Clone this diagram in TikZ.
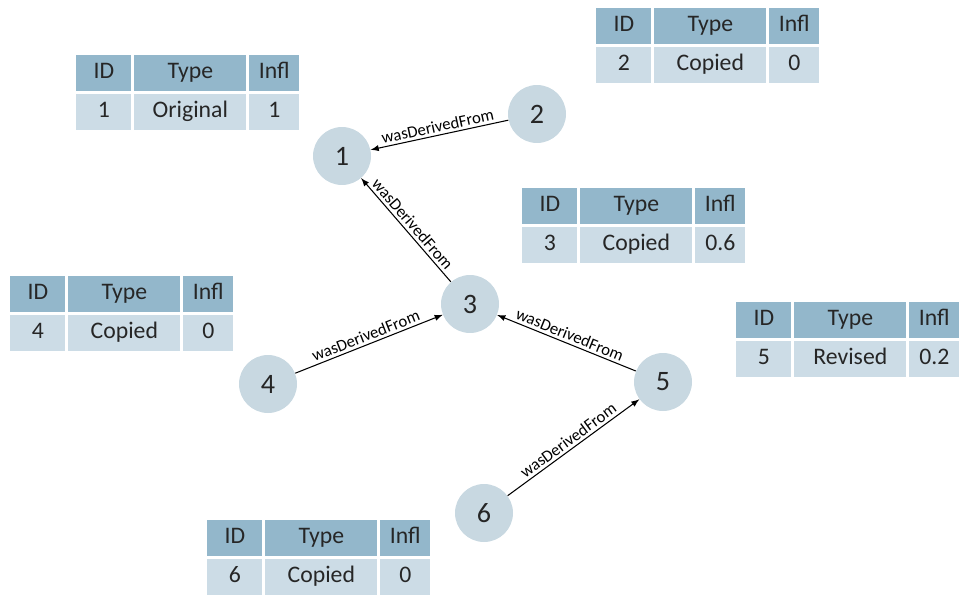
\documentclass[tikz,border=0pt]{standalone}
\usepackage{fontspec}
\setmainfont{Carlito}
\usetikzlibrary{matrix, positioning, arrows}
\definecolor{hdblue}{HTML}{93B7CB}
\definecolor{rowblue}{HTML}{CCDCE6}
\definecolor{circgray}{HTML}{C8D8E1}
\definecolor{txtgray}{HTML}{262626}

\begin{document}
\begin{tikzpicture}[
        x=0.02cm, y=-0.02cm,
        every node/.style={text=txtgray},
        version/.style={circle, fill=circgray, minimum size=1.16cm, inner sep=0pt,
            font=\fontsize{16}{19}\selectfont},
        derived/.style={-latex, line width=0.6pt, black},
        rel/.style={midway, sloped, above, inner sep=1.5pt, text=black,
            font=\fontsize{9.5}{11}\selectfont},
        infotable/.style={matrix of nodes, anchor=north west, inner sep=0pt,
            column sep=0.06cm, row sep=0.06cm,
            nodes={minimum height=0.72cm, inner sep=1pt, anchor=center,
                text height=1.6ex, text depth=0.45ex,
                font=\fontsize{13.5}{16}\selectfont},
            column 1/.style={nodes={minimum width=1.1cm}},
            column 2/.style={nodes={minimum width=2.24cm}},
            column 3/.style={nodes={minimum width=1.0cm}},
            row 1/.style={nodes={fill=hdblue}},
            row 2/.style={nodes={fill=rowblue}}}]

        \useasboundingbox (0,0) rectangle (962,598);

        % versions
        \node[version] (n1) at (342,156) {1};
        \node[version] (n2) at (537,114) {2};
        \node[version] (n3) at (470,304) {3};
        \node[version] (n4) at (268,384) {4};
        \node[version] (n5) at (663,382) {5};
        \node[version] (n6) at (484,513) {6};

        % tables
        \matrix (t1) [infotable] at (76,55) {ID & Type & Infl \\ 1 & Original & 1 \\};
        \matrix (t2) [infotable] at (596,8) {ID & Type & Infl \\ 2 & Copied & 0 \\};
        \matrix (t3) [infotable] at (522,188) {ID & Type & Infl \\ 3 & Copied & 0.6 \\};
        \matrix (t4) [infotable] at (10,276) {ID & Type & Infl \\ 4 & Copied & 0 \\};
        \matrix (t5) [infotable] at (736,302) {ID & Type & Infl \\ 5 & Revised & 0.2 \\};
        \matrix (t6) [infotable] at (207,520) {ID & Type & Infl \\ 6 & Copied & 0 \\};

        \draw[derived] (n2) to node[rel] {wasDerivedFrom} (n1);
        \draw[derived] (n3) to node[rel] {wasDerivedFrom} (n1);
        \draw[derived] (n4) to node[rel] {wasDerivedFrom} (n3);
        \draw[derived] (n5) to node[rel] {wasDerivedFrom} (n3);
        \draw[derived] (n6) to node[rel] {wasDerivedFrom} (n5);

    \end{tikzpicture}
\end{document}
